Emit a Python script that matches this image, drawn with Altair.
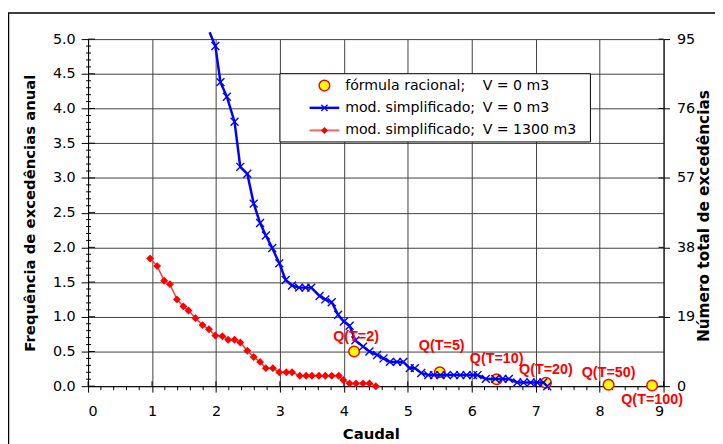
import altair as alt
import pandas as pd
import numpy as np

# ---------------- data ----------------
blue_q = [1.90, 1.99, 2.07, 2.17, 2.29, 2.38, 2.49, 2.59, 2.69, 2.78,
          2.88, 2.99, 3.09, 3.19, 3.30, 3.40, 3.49, 3.62, 3.71, 3.81,
          3.91, 4.00, 4.09, 4.18, 4.30, 4.40, 4.52, 4.62, 4.72, 4.83,
          4.93, 5.03, 5.11, 5.21, 5.32, 5.41, 5.51, 5.61, 5.72, 5.82,
          5.92, 6.02, 6.09, 6.22, 6.37, 6.48, 6.58, 6.71, 6.81, 6.92,
          7.02, 7.12, 7.18]
blue_f = [5.10, 4.90, 4.38, 4.17, 3.81, 3.16, 3.06, 2.63, 2.35, 2.17,
          1.99, 1.77, 1.53, 1.45, 1.42, 1.42, 1.42, 1.30, 1.25, 1.21,
          1.03, 0.93, 0.87, 0.66, 0.57, 0.50, 0.45, 0.40, 0.35, 0.35,
          0.35, 0.26, 0.26, 0.19, 0.16, 0.16, 0.16, 0.16, 0.16, 0.16,
          0.16, 0.16, 0.16, 0.105, 0.105, 0.105, 0.105, 0.053, 0.053, 0.053,
          0.053, 0.053, 0.0]

red_q = [0.97, 1.08, 1.19, 1.28, 1.39, 1.49, 1.57, 1.68, 1.79, 1.89,
         1.99, 2.10, 2.19, 2.29, 2.38, 2.49, 2.59, 2.69, 2.78, 2.89,
         2.99, 3.10, 3.19, 3.31, 3.41, 3.50, 3.61, 3.71, 3.81, 3.92,
         3.99, 4.09, 4.19, 4.30, 4.40, 4.50]
red_f = [1.84, 1.73, 1.52, 1.47, 1.25, 1.15, 1.09, 0.98, 0.88, 0.82,
         0.73, 0.72, 0.67, 0.67, 0.63, 0.51, 0.42, 0.35, 0.26, 0.26,
         0.20, 0.20, 0.20, 0.15, 0.15, 0.15, 0.15, 0.15, 0.15, 0.15,
         0.09, 0.04, 0.04, 0.04, 0.04, 0.0]

rac_q = [4.16, 5.50, 6.39, 7.16, 8.14, 8.82]
rac_f = [0.50, 0.20, 0.10, 0.05, 0.02, 0.01]
rac_labels = ["Q(T=2)", "Q(T=5)", "Q(T=10)", "Q(T=20)", "Q(T=50)", "Q(T=100)"]

x_ticks = [0, 1, 2, 3, 4, 5, 6, 7, 8, 9]
y_ticks = [0.0, 0.5, 1.0, 1.5, 2.0, 2.5, 3.0, 3.5, 4.0, 4.5, 5.0]
right_ticks = [0, 19, 38, 57, 76, 95]

legend_left = ["fórmula racional;", "mod. simplificado;", "mod. simplificado;"]
legend_right = ["V = 0 m3", "V = 0 m3", "V = 1300 m3"]

x_title = "Caudal"
y_title = "Frequência de excedências anual"
y2_title = "Número total de excedências"

# ---------------- style ----------------
W, H = 582, 351
FONT = "DejaVu Sans"
GRID = "#404040"
BLUE = "#0000ff"
RED = "#ff0000"
REDLINE = "#ff3a3a"
XSHAPE = "M-1,-1L1,1M-1,1L1,-1"
label_offsets = [(2, -15), (2, -27), (0, -20), (0, -13), (0, -12), (0, 15)]

xs = alt.Scale(domain=[0, 9], nice=False, zero=False)
ys = alt.Scale(domain=[0, 5], nice=False, zero=False)

x_axis = alt.Axis(values=x_ticks, grid=True, gridColor=GRID, gridWidth=1,
                  domainColor="black", tickColor="black", tickSize=6,
                  labelPadding=13, labelFont=FONT, labelFontSize=14.5,
                  labelColor="black", title=x_title, titleFont=FONT,
                  titleFontSize=15, titleFontWeight="bold", titleColor="black",
                  titleX=286, titleY=53, titleAlign="center",
                  titleBaseline="alphabetic")
y_axis = alt.Axis(values=y_ticks, format=".1f", grid=True, gridColor=GRID,
                  gridWidth=1, domainColor="black", tickColor="black",
                  tickSize=7, labelPadding=6, labelFont=FONT, labelFontSize=14.5,
                  labelColor="black", title=y_title, titleFont=FONT,
                  titleFontSize=15, titleFontWeight="bold", titleColor="black",
                  titleX=-59, titleY=H / 2, titleAngle=270,
                  titleAlign="center", titleBaseline="middle")
r_axis = alt.Axis(values=right_ticks, orient="right", grid=False,
                  domainColor="black", tickColor="black", tickSize=6,
                  labelPadding=7, labelFont=FONT, labelFontSize=14.5,
                  labelColor="black", title=y2_title, titleFont=FONT,
                  titleFontSize=15.5, titleFontWeight="bold", titleColor="black",
                  titleX=40, titleY=H / 2 + 3, titleAngle=270,
                  titleAlign="center", titleBaseline="middle")

X = lambda: alt.X("q:Q", scale=xs, axis=x_axis)
Y = lambda: alt.Y("f:Q", scale=ys, axis=y_axis)

blue_df = pd.DataFrame({"q": blue_q, "f": blue_f})
red_df = pd.DataFrame({"q": red_q, "f": red_f})
rac_df = pd.DataFrame({"q": rac_q, "f": rac_f, "label": rac_labels})
one = pd.DataFrame({"k": [0]})

layers = []

# outer frame
layers.append(alt.Chart(one).mark_rect(fill="white", fillOpacity=0, stroke="black",
                                       strokeWidth=1.5, clip=False).encode(
    x=alt.value(-80.5), x2=alt.value(2000), y=alt.value(-26.5), y2=alt.value(2000)))

# inner tick marks
y_minor = [v for v in np.round(np.arange(0, 5.001, 0.1), 2) if round(v * 2, 6) != round(v * 2)]
x_minor = [v for v in np.round(np.arange(0, 9.001, 0.2), 2) if abs(v - round(v)) > 1e-6]
layers.append(alt.Chart(pd.DataFrame({"f": y_ticks})).mark_rule(color="black", strokeWidth=1).encode(
    y=Y(), x=alt.value(0), x2=alt.value(7)))
layers.append(alt.Chart(pd.DataFrame({"f": y_minor})).mark_rule(color="black", strokeWidth=1).encode(
    y=Y(), x=alt.value(-2), x2=alt.value(3)))
layers.append(alt.Chart(pd.DataFrame({"q": x_ticks})).mark_rule(color="black", strokeWidth=1).encode(
    x=X(), y=alt.value(H - 5), y2=alt.value(H)))
layers.append(alt.Chart(pd.DataFrame({"q": x_minor})).mark_rule(color="black", strokeWidth=1).encode(
    x=X(), y=alt.value(H), y2=alt.value(H + 4)))
layers.append(alt.Chart(pd.DataFrame({"f": [0, 1, 2, 3, 4, 5]})).mark_rule(color="black", strokeWidth=1).encode(
    y=Y(), x=alt.value(W - 5), x2=alt.value(W)))

# red series
layers.append(alt.Chart(red_df).mark_line(color=REDLINE, strokeWidth=1.5).encode(x=X(), y=Y()))
layers.append(alt.Chart(red_df).mark_point(shape="diamond", filled=True, color=RED,
                                           size=64, opacity=1).encode(x=X(), y=Y()))

# rational formula points
layers.append(alt.Chart(rac_df).mark_point(shape="circle", filled=True, fill="#ffff00",
                                           stroke=RED, strokeWidth=1.5, size=115,
                                           opacity=1, clip=False).encode(x=X(), y=Y()))

# blue series
layers.append(alt.Chart(blue_df).mark_line(color=BLUE, strokeWidth=2.5, clip=False).encode(x=X(), y=Y()))
layers.append(alt.Chart(blue_df).transform_filter(alt.datum.f <= 5).mark_point(
    shape=XSHAPE, filled=False, stroke=BLUE, strokeWidth=1.4, size=64, opacity=1).encode(x=X(), y=Y()))

# labels
for lab, (dx, dy) in zip(rac_labels, label_offsets):
    layers.append(alt.Chart(rac_df).transform_filter(alt.datum.label == lab).mark_text(
        font="Liberation Sans", fontSize=14.5, fontWeight="bold", color=RED,
        dx=dx, dy=dy, align="center", baseline="middle", clip=False).encode(
        x=X(), y=Y(), text="label:N"))

# legend
LX0, LX1, LY0, LY1 = 194, 508, 35, 104
rows = [47, 69.5, 92.3]
SX, L0, L1, TX, VX = 239, 224, 254, 260, 399
layers.append(alt.Chart(one).mark_rect(fill="white", stroke="black", strokeWidth=1).encode(
    x=alt.value(LX0), x2=alt.value(LX1), y=alt.value(LY0), y2=alt.value(LY1)))
layers.append(alt.Chart(one).mark_point(shape="circle", filled=True, fill="#ffff00", stroke=RED,
                                        strokeWidth=1.5, size=115, opacity=1).encode(
    x=alt.value(SX), y=alt.value(rows[0])))
layers.append(alt.Chart(one).mark_rule(color=BLUE, strokeWidth=2.5).encode(
    x=alt.value(L0), x2=alt.value(L1), y=alt.value(rows[1])))
layers.append(alt.Chart(one).mark_point(shape=XSHAPE, filled=False, stroke=BLUE, strokeWidth=1.3,
                                        size=40, opacity=1).encode(x=alt.value(SX), y=alt.value(rows[1])))
layers.append(alt.Chart(one).mark_rule(color="#ff6060", strokeWidth=2).encode(
    x=alt.value(L0), x2=alt.value(L1), y=alt.value(rows[2])))
layers.append(alt.Chart(one).mark_point(shape="diamond", filled=True, color=RED, size=50,
                                        opacity=1).encode(x=alt.value(SX), y=alt.value(rows[2])))
for i in range(3):
    layers.append(alt.Chart(one).mark_text(font=FONT, fontSize=14.3, color="black", align="left",
                                           baseline="middle", text=legend_left[i]).encode(
        x=alt.value(TX), y=alt.value(rows[i])))
    layers.append(alt.Chart(one).mark_text(font=FONT, fontSize=14.3, color="black", align="left",
                                           baseline="middle", text=legend_right[i]).encode(
        x=alt.value(VX), y=alt.value(rows[i])))

inner = alt.layer(*layers)

right = alt.Chart(pd.DataFrame({"n": [0]})).mark_point(opacity=0).encode(
    y=alt.Y("n:Q", scale=alt.Scale(domain=[0, 95], nice=False, zero=False), axis=r_axis))

chart = alt.layer(inner, right).resolve_scale(y="independent").properties(
    width=W, height=H,
    padding={"left": 81, "top": 29, "right": 52, "bottom": 56},
    autosize=alt.AutoSizeParams(type="none"),
    background="white",
).configure_view(stroke=None)

chart.save("out.html", embed_options={"renderer": "svg", "actions": False})
